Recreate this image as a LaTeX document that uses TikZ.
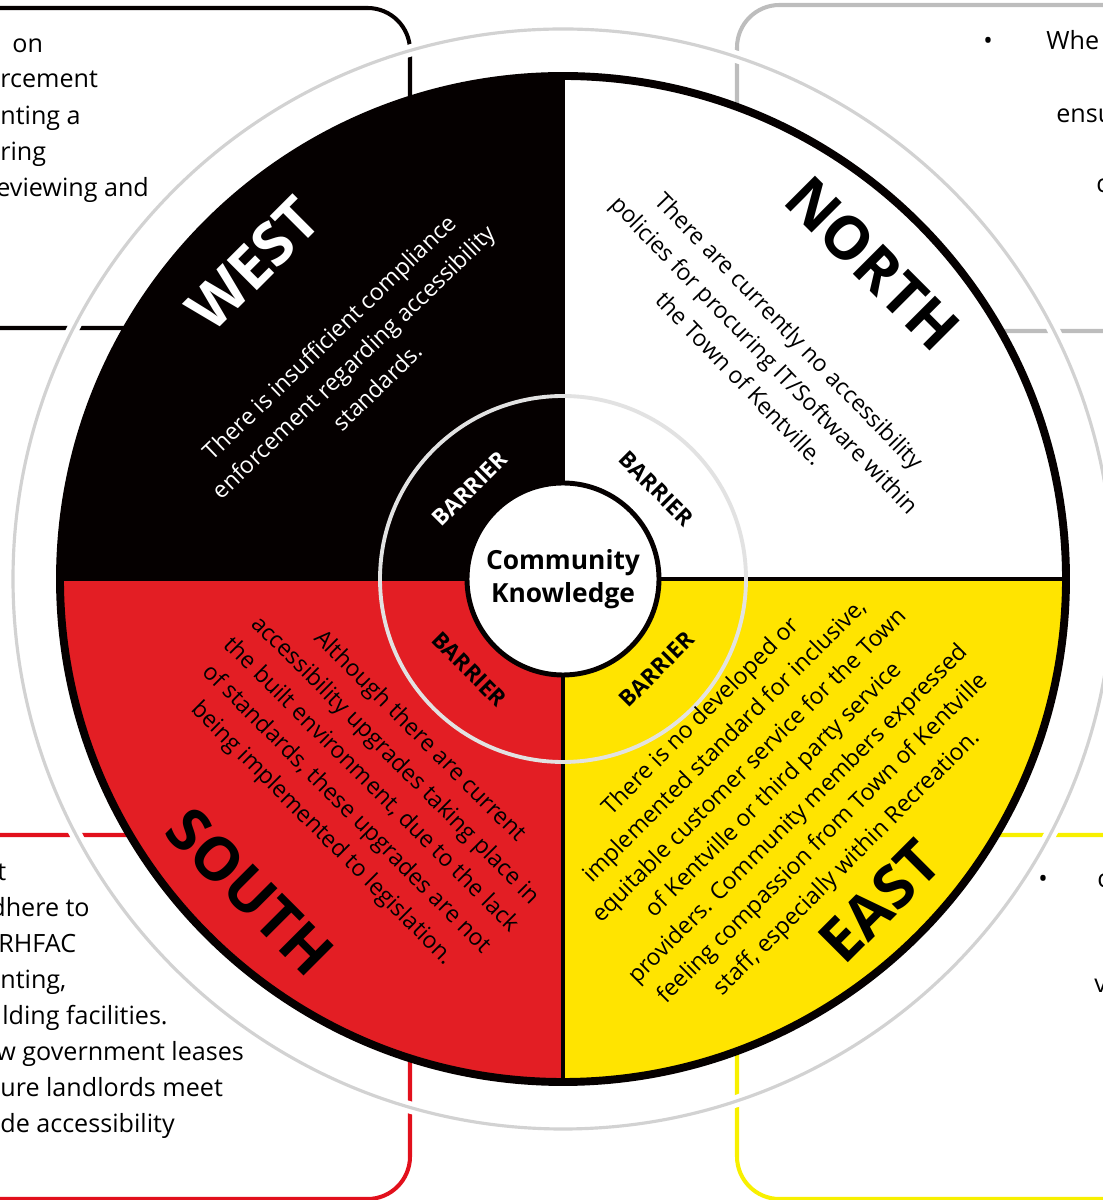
\documentclass[tikz,border=0pt]{standalone}
\usepackage{fontspec}
\setmainfont{Open Sans}
\usetikzlibrary{positioning, calc}

\definecolor{wheelred}{HTML}{E31E24}
\definecolor{wheelyellow}{HTML}{FFE400}
\definecolor{wheelblack}{HTML}{050000}
\definecolor{boxgray}{HTML}{BDBDBD}
\definecolor{boxred}{HTML}{E2101C}
\definecolor{boxyellow}{HTML}{F8F000}
\definecolor{ringgray}{HTML}{D2D2D2}
\definecolor{innerring}{HTML}{E2E2E2}

\begin{document}
\begin{tikzpicture}[x=0.02cm, y=0.02cm, line cap=round, line join=round]
	
	%======================
	% PARAMETERS (in px of the picture)
	%======================
	\def\R{503}    % wheel radius
	\def\Ro{550}   % outer light ring
	\def\Ri{183}   % inner ring
	\def\Rc{96}    % centre circle
	\def\Rd{442}   % direction labels
	\def\Rt{302}   % barrier texts
	\def\Rb{130}   % BARRIER labels
	
	% Styles
	\tikzset{
		boxline/.style={line width=2.3pt, rounded corners=0.85cm},
		boxtext/.style={anchor=base west, inner sep=0pt, font=\fontsize{14.3}{20}\selectfont},
		bodytext/.style={align=center, inner sep=0pt, font=\fontsize{13.2}{19.6}\selectfont},
		dirlabel/.style={inner sep=0pt, font=\fontsize{34}{34}\selectfont\bfseries},
		barrier/.style={inner sep=0pt, font=\fontsize{12.8}{12.8}\selectfont\bfseries},
		divider/.style={line width=2.3pt, wheelblack}
	}
	
	\useasboundingbox (0,0) rectangle (1102,1200);
	\coordinate (C) at (563,621);
	
	%======================
	% SIDE BOXES (behind the wheel)
	%======================
	\draw[boxline, wheelblack] (-60,872) rectangle (410,1192);
	\draw[boxline, boxgray] (737,869) rectangle (1180,1195);
	\draw[boxline, boxred] (-60,1) rectangle (410,365);
	\draw[boxline, boxyellow] (737,1) rectangle (1180,365);
	
	% west box
	\node[boxtext] (w1) at (12,1147) {on};
	\node[boxtext] (w2) at (0,1112) {rcement};
	\node[boxtext] (w3) at (0,1075) {nting a};
	\node[boxtext] (w4) at (0,1039) {ring};
	\node[boxtext] (w5) at (-4,1003) {eviewing and};
	
	% north box
	\node[boxtext] (n0) at (983,1150) {•};
	\node[boxtext] (n1) at (1046,1150) {Whe};
	\node[boxtext] (n2) at (1056,1077) {ensu};
	\node[boxtext] (n3) at (1096,1007) {c};
	
	% south box
	\node[boxtext] (s1) at (-3,319) {t};
	\node[boxtext] (s2) at (-10,283) {dhere to};
	\node[boxtext] (s3) at (-2,247) {RHFAC};
	\node[boxtext] (s4) at (0,211) {nting,};
	\node[boxtext] (s5) at (2,175) {lding facilities.};
	\node[boxtext] (s6) at (-4,139) {w government leases};
	\node[boxtext] (s7) at (0,103) {ure landlords meet};
	\node[boxtext] (s8) at (0,67) {de accessibility};
	
	% east box
	\node[boxtext] (e0) at (1038,312) {•};
	\node[boxtext] (e1) at (1097,312) {c};
	\node[boxtext] (e2) at (1094,207) {v};
	
	%======================
	% OUTER LIGHT RING
	%======================
	\draw[white, line width=7pt] (C) circle[radius=\Ro];
	\draw[ringgray, line width=1.8pt] (C) circle[radius=\Ro];
	
	%======================
	% WHEEL
	%======================
	\fill[wheelblack] (C) -- ++(180:\R) arc[start angle=180, end angle=90, radius=\R] -- cycle;
	\fill[white] (C) -- ++(90:\R) arc[start angle=90, end angle=0, radius=\R] -- cycle;
	\fill[wheelyellow] (C) -- ++(0:\R) arc[start angle=0, end angle=-90, radius=\R] -- cycle;
	\fill[wheelred] (C) -- ++(270:\R) arc[start angle=270, end angle=180, radius=\R] -- cycle;
	
	\draw[divider] ($(C)+(0,-\R)$) -- ($(C)+(0,\R)$);
	\draw[divider] ($(C)+(-\R,0)$) -- ($(C)+(\R,0)$);
	\draw[wheelblack, line width=4.5pt] (C) circle[radius=\R];
	
	% inner ring and centre
	\draw[innerring, line width=2.2pt] (C) circle[radius=\Ri];
	\draw[wheelblack, fill=white, line width=2.8pt] (C) circle[radius=\Rc];
	\node[align=center, inner sep=0pt, font=\fontsize{15}{18.7}\selectfont\bfseries] (ck) at (C) {Community\\Knowledge};
	
	%======================
	% DIRECTIONS
	%======================
	\node[dirlabel, white, rotate=45] (west) at ($(C)+(134.5:\Rd)$) {WEST};
	\node[dirlabel, rotate=-45] (north) at ($(C)+(45.5:\Rd)$) {NORTH};
	\node[dirlabel, rotate=-45] (south) at ($(C)+(225:\Rd)$) {SOUTH};
	\node[dirlabel, rotate=45] (east) at ($(C)+(314.5:452)$) {EAST};
	
	\node[barrier, white, rotate=45] (bw) at ($(C)+(136:\Rb)$) {BARRIER};
	\node[barrier, rotate=-45] (bn) at ($(C)+(44:\Rb)$) {BARRIER};
	\node[barrier, rotate=-45] (bs) at ($(C)+(224:\Rb)$) {BARRIER};
	\node[barrier, rotate=45] (be) at ($(C)+(316:\Rb)$) {BARRIER};
	
	%======================
	% BARRIER TEXTS
	%======================
	\node[bodytext, white, rotate=44] (tw) at ($(C)+(134:\Rt)$) {There is insufficient compliance\\ enforcement regarding accessibility\\ standards.};
	\node[bodytext, rotate=-46] (tn) at ($(C)+(48:\Rt)$) {There are currently no accessibility\\ policies for procuring IT/Software within\\ the Town of Kentville.};
	\node[bodytext, rotate=-45] (ts) at ($(C)+(227:282)$) {Although there are current\\ accessibility upgrades taking place in\\ the built environment, due to the lack\\ of standards, these upgrades are not\\ being implemented to legislation.};
	\node[bodytext, rotate=45] (te) at ($(C)+(315:299)$) {There is no developed or\\ implemented standard for inclusive,\\ equitable customer service for the Town\\ of Kentville or third party service\\ providers. Community members expressed\\ feeling compassion from Town of Kentville\\ staff, especially within Recreation.};
	
\end{tikzpicture}
\end{document}
